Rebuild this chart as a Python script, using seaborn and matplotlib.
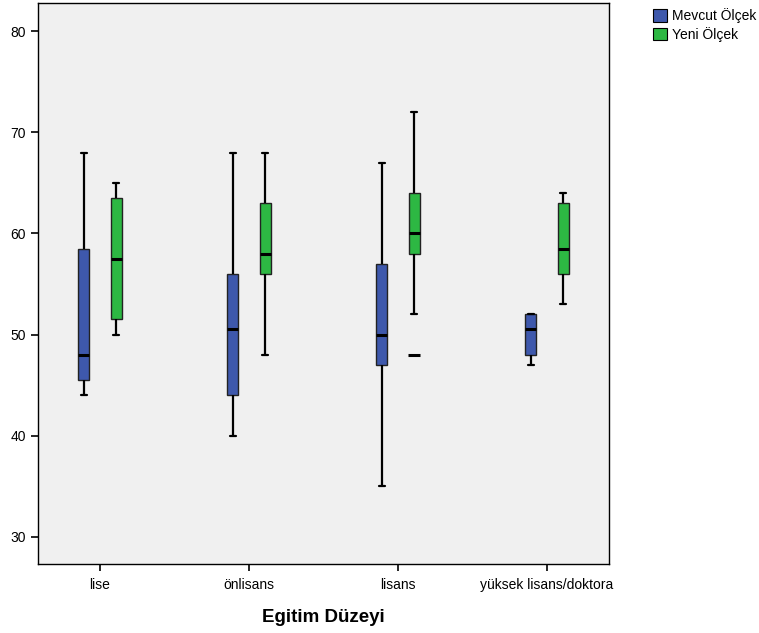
import numpy as np
import pandas as pd
import matplotlib
matplotlib.use("Agg")
import matplotlib.pyplot as plt
from matplotlib.patches import Patch
import seaborn as sns

# Education levels and the two scales being compared
groups = ["lise", "önlisans", "lisans", "yüksek lisans/doktora"]
scales = ["Mevcut Ölçek", "Yeni Ölçek"]

# Five-number summaries per education level (min, Q1, median, Q3, max)
mevcut_min = [44, 40, 35, 47]
mevcut_q1 = [45.5, 44, 47, 48]
mevcut_med = [48, 50.5, 50, 50.5]
mevcut_q3 = [58.5, 56, 57, 52]
mevcut_max = [68, 68, 67, 52]

yeni_min = [50, 48, 52, 53]
yeni_q1 = [51.5, 56, 58, 56]
yeni_med = [57.5, 58, 60, 58.5]
yeni_q3 = [63.5, 63, 64, 63]
yeni_max = [65, 68, 72, 64]

# Outlying value of the new scale in the "lisans" group
outlier_group = "lisans"
outlier_value = 48

colors = {"Mevcut Ölçek": "#3e58ac", "Yeni Ölçek": "#2db843"}

rows = []
summaries = {
    "Mevcut Ölçek": (mevcut_min, mevcut_q1, mevcut_med, mevcut_q3, mevcut_max),
    "Yeni Ölçek": (yeni_min, yeni_q1, yeni_med, yeni_q3, yeni_max),
}
for scale, stats in summaries.items():
    for i, g in enumerate(groups):
        for s in stats:
            rows.append({"Egitim Düzeyi": g, "Ölçek": scale, "Puan": s[i]})
df = pd.DataFrame(rows)

sns.set_theme(style="ticks")
plt.rcParams["font.family"] = ["Liberation Sans", "DejaVu Sans"]
plt.rcParams["text.color"] = "black"
plt.rcParams["axes.labelcolor"] = "black"

fig = plt.figure(figsize=(7.59, 6.33), dpi=100)
ax = fig.add_axes([38 / 759, 1 - 564 / 633, (609 - 38) / 759, (564 - 3) / 633])
ax.set_facecolor("#f0f0f0")

box_width = 0.44
sns.boxplot(
    data=df, x="Egitim Düzeyi", y="Puan", hue="Ölçek",
    order=groups, hue_order=scales, palette=colors, saturation=1,
    width=box_width, gap=0.645, whis=(0, 100), fliersize=0,
    linecolor="black", linewidth=1.0,
    whiskerprops=dict(linewidth=1.6, color="black"),
    capprops=dict(linewidth=1.6, color="black"),
    medianprops=dict(linewidth=2.2, color="black"),
    boxprops=dict(edgecolor="#222222", linewidth=1.0),
    legend=False, ax=ax,
)

# Outlier drawn as a short horizontal dash at the new-scale position
ox = groups.index(outlier_group) + box_width / 4
ax.scatter([ox], [outlier_value], marker="_", s=75, linewidths=2.2,
           color="black", zorder=5)

ax.set_xlim(-0.416, 3.416)
ax.set_ylim(27.3, 82.8)
ax.set_yticks([30, 40, 50, 60, 70, 80])
ax.set_ylabel("")
ax.set_xlabel("Egitim Düzeyi", fontsize=13.5, fontweight="bold", labelpad=12,
              color="black")
ax.tick_params(axis="both", labelsize=10, length=5, width=1.2, color="black",
               labelcolor="black")
ax.tick_params(axis="x", pad=5)
for sp in ax.spines.values():
    sp.set_visible(True)
    sp.set_color("black")
    sp.set_linewidth(1.0)

handles = [Patch(facecolor=colors[s], edgecolor="black", linewidth=0.8, label=s)
           for s in scales]
fig.legend(handles=handles, loc="upper left", bbox_to_anchor=(0.850, 1.0),
           frameon=False, fontsize=10, handlelength=1.0, handleheight=1.0,
           handletextpad=0.3, labelspacing=0.25, borderaxespad=0.2,
           labelcolor="black")

fig.savefig("out.png", dpi=100, facecolor="white")
